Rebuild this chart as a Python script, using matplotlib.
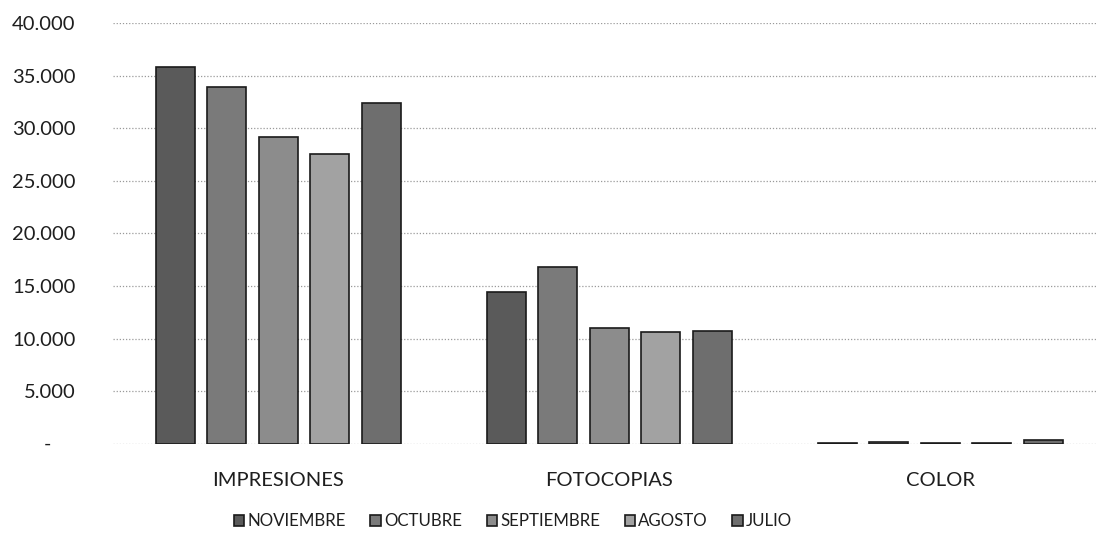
import matplotlib
matplotlib.use("Agg")
import matplotlib.pyplot as plt
import matplotlib.transforms as mtransforms
import numpy as np
from matplotlib.ticker import FuncFormatter

categories = ["IMPRESIONES", "FOTOCOPIAS", "COLOR"]
months = ["NOVIEMBRE", "OCTUBRE", "SEPTIEMBRE", "AGOSTO", "JULIO"]
noviembre = [35800, 14450, 60]
octubre = [33900, 16850, 150]
septiembre = [29200, 11050, 100]
agosto = [27600, 10650, 60]
julio = [32450, 10700, 400]
series = [noviembre, octubre, septiembre, agosto, julio]

colors = ["#5a5a5a", "#7a7a7a", "#8c8c8c", "#a2a2a2", "#6e6e6e"]

plt.rcParams['font.family'] = ['Lato', 'DejaVu Sans']

fig = plt.figure(figsize=(10.96, 5.38), dpi=100)
ax = fig.add_axes([0.103, 0.175, 0.897, 0.782])

x = np.arange(len(categories))
width = 0.118
step = 0.1556
for i, (name, vals) in enumerate(zip(months, series)):
    ax.bar(x + (i - 2) * step, vals, width, color=colors[i], edgecolor="#1a1a1a",
           linewidth=1.2, label=name, zorder=3)

ax.set_xlim(-0.5, 2.47)
ax.set_ylim(0, 40000)
ax.set_yticks(range(0, 40001, 5000))


def fmt(v, pos):
    if v == 0:
        return ""
    return f"{int(v):,}".replace(",", ".")


ax.yaxis.set_major_formatter(FuncFormatter(fmt))
# Excel accounting style: zero shown as a dash, sitting left of the digits
trans = mtransforms.blended_transform_factory(ax.transAxes, ax.transData)
ax.annotate("-", xy=(0, 0), xycoords=trans, xytext=(-47, 0), textcoords="offset points",
            ha="center", va="center", fontsize=14, color="#1e1e1e")

ax.set_xticks(x)
ax.set_xticklabels(categories)
ax.tick_params(axis="both", length=0, labelsize=14.5, colors="#1e1e1e")
ax.tick_params(axis="y", pad=27)
ax.tick_params(axis="x", pad=20)
ax.grid(axis="y", color="#9a9a9a", linestyle=(0, (1, 1.5)), linewidth=0.9, zorder=0)
for s in ax.spines.values():
    s.set_visible(False)

fig.legend(loc="lower center", bbox_to_anchor=(0.468, -0.012), ncol=5, frameon=False,
           fontsize=12.2, handlelength=0.6, handleheight=0.6, handletextpad=0.2,
           columnspacing=1.45, labelcolor="#1e1e1e")

fig.savefig("out.png", dpi=100, facecolor="white")
